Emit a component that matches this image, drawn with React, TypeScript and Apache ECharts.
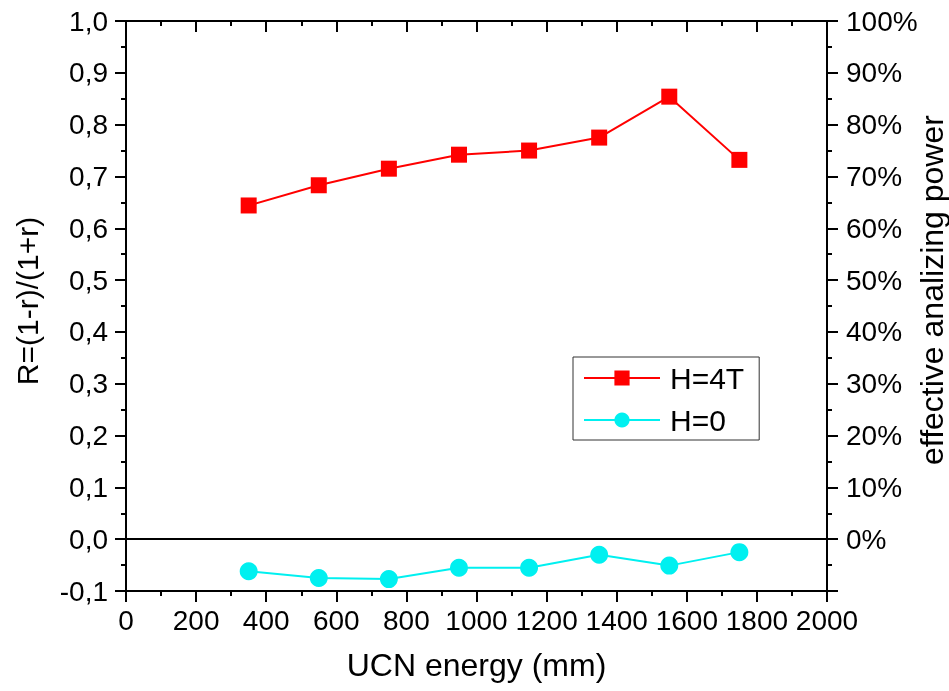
import React, { useEffect, useRef } from 'react';
import * as echarts from 'echarts';

const energies = [350, 550, 750, 950, 1150, 1350, 1550, 1750];
const r4T = [0.644, 0.683, 0.715, 0.742, 0.750, 0.775, 0.854, 0.732];
const r0 = [-0.062, -0.075, -0.077, -0.055, -0.055, -0.030, -0.051, -0.025];
const seriesNames = ['H=4T', 'H=0'];
const xTitle = 'UCN energy (mm)';
const yTitle = 'R=(1-r)/(1+r)';
const y2Title = 'effective analizing power';

const FONT = '"Liberation Sans", Arial, sans-serif';

export default function App() {
  const ref = useRef<HTMLDivElement>(null);
  useEffect(() => {
    if (!ref.current) return;
    const chart = echarts.init(ref.current, undefined, { renderer: 'svg' });
    const axisLine = { show: true, onZero: false, lineStyle: { color: '#000', width: 2 } };
    const minorTick = { show: true, splitNumber: 2, length: 5, lineStyle: { color: '#000', width: 2 } };
    const axisTick = { show: true, length: 11, lineStyle: { color: '#000', width: 2 } };
    chart.setOption({
      animation: false,
      textStyle: { fontFamily: FONT },
      grid: { left: 126, right: 122, top: 21, bottom: 100, containLabel: false },
      legend: {
        orient: 'vertical',
        left: 573,
        top: 357,
        padding: [6, 15, 5, 10],
        itemWidth: 76,
        itemHeight: 19,
        itemGap: 12,
        borderColor: '#333',
        borderWidth: 1,
        textStyle: { fontSize: 30, color: '#000', lineHeight: 30, padding: [0, 0, 0, 5], fontFamily: FONT },
        data: seriesNames,
      },
      xAxis: [
        {
          type: 'value', position: 'bottom', min: 0, max: 2000, interval: 200,
          axisLine, axisTick: { ...axisTick, inside: false }, minorTick,
          splitLine: { show: false },
          axisLabel: { fontSize: 28, color: '#000', margin: 15, fontFamily: FONT, formatter: (v: number) => String(v) },
          name: xTitle, nameLocation: 'middle', nameGap: 58,
          nameTextStyle: { fontSize: 32, color: '#000', fontFamily: FONT },
        },
        {
          type: 'value', position: 'top', min: 0, max: 2000, interval: 200,
          axisLine, axisTick: { ...axisTick, inside: true }, minorTick,
          splitLine: { show: false }, axisLabel: { show: false },
        },
      ],
      yAxis: [
        {
          type: 'value', position: 'left', min: -0.1, max: 1.0, interval: 0.1,
          axisLine, axisTick: { ...axisTick, inside: false }, minorTick,
          splitLine: { show: false },
          axisLabel: {
            fontSize: 28, color: '#000', margin: 18, fontFamily: FONT,
            formatter: (v: number) => v.toFixed(1).replace('.', ','),
          },
        },
        {
          type: 'value', position: 'right', min: -10, max: 100, interval: 10,
          axisLine, axisTick: { ...axisTick, inside: false }, minorTick,
          splitLine: { show: false },
          axisLabel: {
            fontSize: 28, color: '#000', margin: 19, fontFamily: FONT,
            formatter: (v: number) => (v < 0 ? '' : Math.round(v) + '%'),
          },
        },
      ],
      graphic: [
        {
          type: 'text', x: 27, y: 301, rotation: Math.PI / 2,
          style: { text: yTitle, fontSize: 30, fontFamily: FONT, fill: '#000', align: 'center', verticalAlign: 'middle' },
        },
        {
          type: 'text', x: 932, y: 290, rotation: Math.PI / 2,
          style: { text: y2Title, fontSize: 32, fontFamily: FONT, fill: '#000', align: 'center', verticalAlign: 'middle' },
        },
      ],
      series: [
        {
          name: seriesNames[0], type: 'line', xAxisIndex: 0, yAxisIndex: 0,
          data: energies.map((x, i) => [x, r4T[i]]),
          symbol: 'rect', symbolSize: 16,
          itemStyle: { color: '#ff0000' },
          lineStyle: { color: '#ff0000', width: 2 },
        },
        {
          name: seriesNames[1], type: 'line', xAxisIndex: 0, yAxisIndex: 0,
          data: energies.map((x, i) => [x, r0[i]]),
          symbol: 'circle', symbolSize: 18,
          itemStyle: { color: '#00f0f0' },
          lineStyle: { color: '#00f0f0', width: 2 },
          markLine: {
            silent: true, symbol: ['none', 'none'],
            label: { show: false },
            lineStyle: { color: '#000', width: 2, type: 'solid' },
            data: [{ yAxis: 0 }],
          },
        },
      ],
    });
    return () => chart.dispose();
  }, []);
  return <div ref={ref} style={{ position: 'fixed', left: 0, top: 0, width: 949, height: 691 }} />;
}
